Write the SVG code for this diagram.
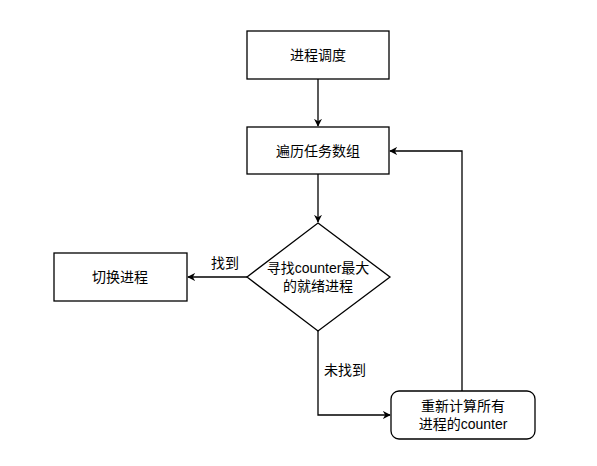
<svg xmlns="http://www.w3.org/2000/svg" width="597" height="466" viewBox="0 0 597 466">
<style>
.n{fill:#fff;stroke:#000;stroke-width:1.3}
.t{font-family:"Liberation Sans","Noto Sans CJK SC",sans-serif;font-size:14px;fill:#000;text-anchor:middle}
.e{fill:none;stroke:#000;stroke-width:1.3}
</style>
<defs>
<marker id="a" viewBox="0 0 10 10" refX="9" refY="5" markerWidth="8" markerHeight="8" markerUnits="userSpaceOnUse" orient="auto">
<path d="M0,0 L10,5 L0,10 L3,5 Z" fill="#000"/>
</marker>
</defs>
<rect width="597" height="466" fill="#fff"/>
<g id="edges">
<path class="e" d="M318,79 V126" marker-end="url(#a)"/>
<path class="e" d="M318,174 V222" marker-end="url(#a)"/>
<path class="e" d="M247,277 H188" marker-end="url(#a)"/>
<path class="e" d="M318,331 V415 H390" marker-end="url(#a)"/>
<path class="e" d="M462,391 V151 H390" marker-end="url(#a)"/>
<text class="t" x="225" y="268">找到</text>
<text class="t" x="345" y="375">未找到</text>
</g>
<g id="n1"><rect class="n" x="247" y="31" width="142" height="48"/><text class="t" x="318" y="60">进程调度</text></g>
<g id="n2"><rect class="n" x="247" y="127" width="142" height="47"/><text class="t" x="318" y="156">遍历任务数组</text></g>
<g id="n3"><path class="n" d="M318,223 L390,277 L318,331 L247,277 Z"/><text class="t" x="318" y="273">寻找counter最大</text><text class="t" x="318" y="291">的就绪进程</text></g>
<g id="n4"><rect class="n" x="54" y="253" width="133" height="48"/><text class="t" x="120" y="282">切换进程</text></g>
<g id="n5"><rect class="n" x="391" y="391" width="144" height="48" rx="8"/><text class="t" x="463" y="411">重新计算所有</text><text class="t" x="463" y="429">进程的counter</text></g>
</svg>
